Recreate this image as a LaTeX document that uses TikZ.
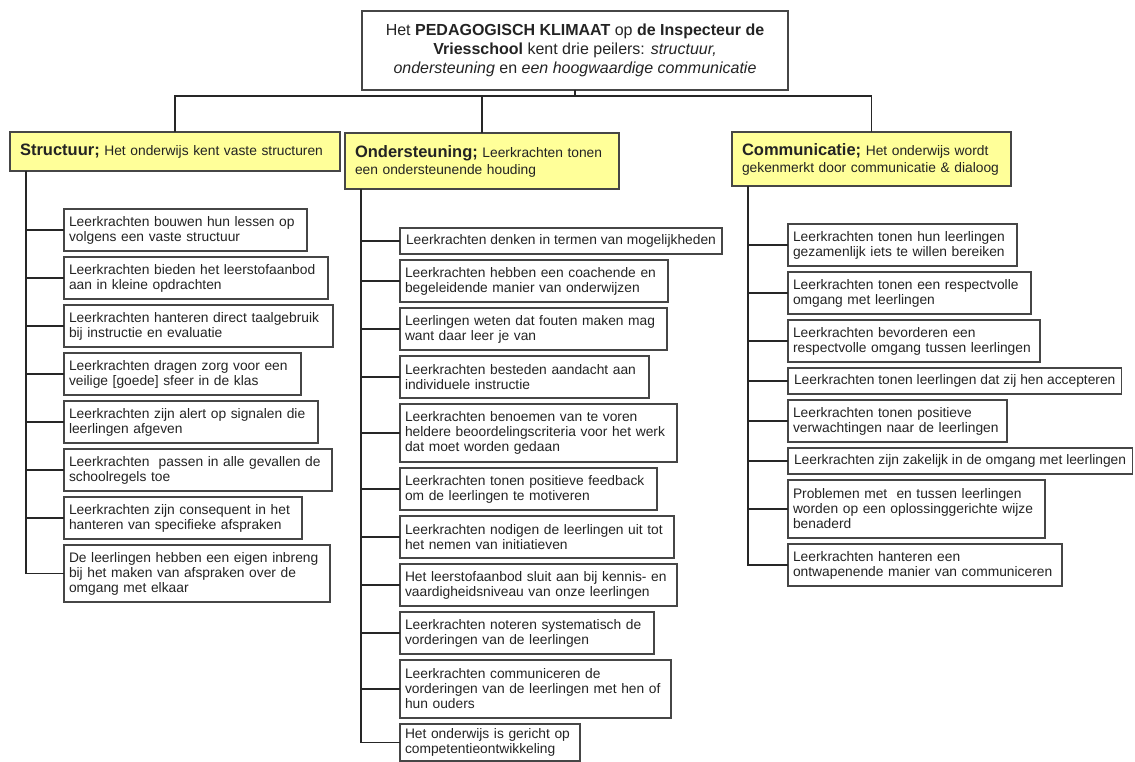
\documentclass[tikz,border=0pt]{standalone}
\usepackage{fontspec}
\setmainfont{Liberation Sans}
\usetikzlibrary{positioning}
\definecolor{hdryellow}{RGB}{255,255,153}
\definecolor{txtdark}{RGB}{35,35,35}
\definecolor{boxgray}{RGB}{70,70,70}
\tikzset{
  rootbox/.style={rectangle, draw=boxgray, line width=1.2pt, align=center, text=txtdark, outer sep=0pt,
    minimum width=426pt, minimum height=79pt, font=\fontsize{16}{19}\selectfont},
  head/.style={rectangle, draw=boxgray, fill=hdryellow, line width=1.2pt, align=left, text=txtdark,
    inner xsep=10pt, inner ysep=3pt, outer sep=0pt, anchor=north west, font=\fontsize{13.8}{17}\selectfont},
  item/.style={rectangle, draw=boxgray, line width=1.2pt, align=left, text=txtdark,
    inner xsep=5pt, inner ysep=2pt, outer sep=0pt, font=\fontsize{13.8}{15}\selectfont},
  oneline/.style={minimum height=26pt, inner xsep=6pt},
  twoline/.style={minimum height=42pt},
  threeline/.style={minimum height=58pt},
  tree/.style={draw=black!85, line width=1.3pt},
  node distance=6pt
}
\newcommand{\hdr}[1]{\textbf{\fontsize{16.5}{17}\selectfont #1}}

\begin{document}
\begin{tikzpicture}[x=1pt, y=1pt]
  \useasboundingbox (0,0) rectangle (1135,-762);

  % root and the three pillars
  \node[rootbox] (root) at (575,-50.5) {Het \textbf{PEDAGOGISCH KLIMAAT} op \textbf{de Inspecteur de}\\
    \textbf{Vriesschool} kent drie peilers: \textit{structuur,}\\
    \textit{ondersteuning} en \textit{een hoogwaardige communicatie}};

  \node[head, minimum height=39pt, text width=310pt] (hs) at (10,-132) {\hdr{Structuur;} Het onderwijs kent vaste structuren};
  \node[head, minimum height=56pt, text width=254pt] (ho) at (345,-133) {\hdr{Ondersteuning;} Leerkrachten tonen\\een ondersteunende houding};
  \node[head, minimum height=54pt, text width=259pt] (hc) at (732,-132) {\hdr{Communicatie;} Het onderwijs wordt\\gekenmerkt door communicatie \& dialoog};

  \coordinate (bus) at (0,-96);
  \draw[tree] (root.south) -- (root.south |- bus);
  \draw[tree] (hs.north) |- (hc.north |- bus) -- (hc.north);
  \draw[tree] (ho.north) -- (ho.north |- bus);

  % structuur
  \node[item, twoline, text width=233pt] (s1) [below=38pt of hs.south west, xshift=54pt, anchor=north west] {Leerkrachten bouwen hun lessen op\\volgens een vaste structuur};
  \node[item, twoline, text width=254pt] (s2) [below=of s1.south west, anchor=north west] {Leerkrachten bieden het leerstofaanbod\\aan in kleine opdrachten};
  \node[item, twoline, text width=259pt] (s3) [below=of s2.south west, anchor=north west] {Leerkrachten hanteren direct taalgebruik\\bij instructie en evaluatie};
  \node[item, twoline, text width=227pt] (s4) [below=of s3.south west, anchor=north west] {Leerkrachten dragen zorg voor een\\veilige [goede] sfeer in de klas};
  \node[item, twoline, text width=244pt] (s5) [below=of s4.south west, anchor=north west] {Leerkrachten zijn alert op signalen die\\leerlingen afgeven};
  \node[item, twoline, text width=258pt] (s6) [below=of s5.south west, anchor=north west] {Leerkrachten\ \ passen in alle gevallen de\\schoolregels toe};
  \node[item, twoline, text width=228pt] (s7) [below=of s6.south west, anchor=north west] {Leerkrachten zijn consequent in het\\hanteren van specifieke afspraken};
  \node[item, threeline, minimum height=57pt, text width=256pt] (s8) [below=of s7.south west, anchor=north west] {De leerlingen hebben een eigen inbreng\\bij het maken van afspraken over de\\omgang met elkaar};

  \coordinate (sx) at ([xshift=16pt]hs.south west);
  \draw[tree] (sx) |- (s8.west);
  \foreach \i in {1,...,7}
    \draw[tree] (sx |- s\i.west) -- (s\i.west);

  % ondersteuning
  \node[item, oneline] (o1) [below=39pt of ho.south west, xshift=55pt, anchor=north west] {Leerkrachten denken in termen van mogelijkheden};
  \node[item, twoline, text width=258pt] (o2) [below=of o1.south west, anchor=north west] {Leerkrachten hebben een coachende en\\begeleidende manier van onderwijzen};
  \node[item, twoline, text width=257pt] (o3) [below=of o2.south west, anchor=north west] {Leerlingen weten dat fouten maken mag\\want daar leer je van};
  \node[item, twoline, text width=239pt] (o4) [below=of o3.south west, anchor=north west] {Leerkrachten besteden aandacht aan\\individuele instructie};
  \node[item, threeline, text width=267pt] (o5) [below=of o4.south west, anchor=north west] {Leerkrachten benoemen van te voren\\heldere beoordelingscriteria voor het werk\\dat moet worden gedaan};
  \node[item, twoline, text width=247pt] (o6) [below=of o5.south west, anchor=north west] {Leerkrachten tonen positieve feedback\\om de leerlingen te motiveren};
  \node[item, twoline, text width=264pt] (o7) [below=of o6.south west, anchor=north west] {Leerkrachten nodigen de leerlingen uit tot\\het nemen van initiatieven};
  \node[item, twoline, text width=267pt] (o8) [below=of o7.south west, anchor=north west] {Het leerstofaanbod sluit aan bij kennis- en\\vaardigheidsniveau van onze leerlingen};
  \node[item, twoline, text width=244pt] (o9) [below=of o8.south west, anchor=north west] {Leerkrachten noteren systematisch de\\vorderingen van de leerlingen};
  \node[item, threeline, text width=261pt] (o10) [below=of o9.south west, anchor=north west] {Leerkrachten communiceren de\\vorderingen van de leerlingen met hen of\\hun ouders};
  \node[item, minimum height=37pt, text width=170pt] (o11) [below=of o10.south west, anchor=north west] {Het onderwijs is gericht op\\competentieontwikkeling};

  \coordinate (ox) at ([xshift=16pt]ho.south west);
  \draw[tree] (ox) |- (o11.west);
  \foreach \i in {1,...,10}
    \draw[tree] (ox |- o\i.west) -- (o\i.west);

  % communicatie
  \node[item, twoline, text width=219pt] (c1) [below=38pt of hc.south west, xshift=56pt, anchor=north west] {Leerkrachten tonen hun leerlingen\\gezamenlijk iets te willen bereiken};
  \node[item, twoline, text width=233pt] (c2) [below=of c1.south west, anchor=north west] {Leerkrachten tonen een respectvolle\\omgang met leerlingen};
  \node[item, twoline, text width=242pt] (c3) [below=of c2.south west, anchor=north west] {Leerkrachten bevorderen een\\respectvolle omgang tussen leerlingen};
  \node[item, oneline] (c4) [below=of c3.south west, anchor=north west] {Leerkrachten tonen leerlingen dat zij hen accepteren};
  \node[item, twoline, text width=209pt] (c5) [below=of c4.south west, anchor=north west] {Leerkrachten tonen positieve\\verwachtingen naar de leerlingen};
  \node[item, oneline] (c6) [below=of c5.south west, anchor=north west] {Leerkrachten zijn zakelijk in de omgang met leerlingen};
  \node[item, threeline, text width=247pt] (c7) [below=of c6.south west, anchor=north west] {Problemen met\ \ en tussen leerlingen\\worden op een oplossinggerichte wijze\\benaderd};
  \node[item, twoline, text width=264pt] (c8) [below=of c7.south west, anchor=north west] {Leerkrachten hanteren een\\ontwapenende manier van communiceren};

  \coordinate (cx) at ([xshift=16pt]hc.south west);
  \draw[tree] (cx) |- (c8.west);
  \foreach \i in {1,...,7}
    \draw[tree] (cx |- c\i.west) -- (c\i.west);
\end{tikzpicture}
\end{document}
